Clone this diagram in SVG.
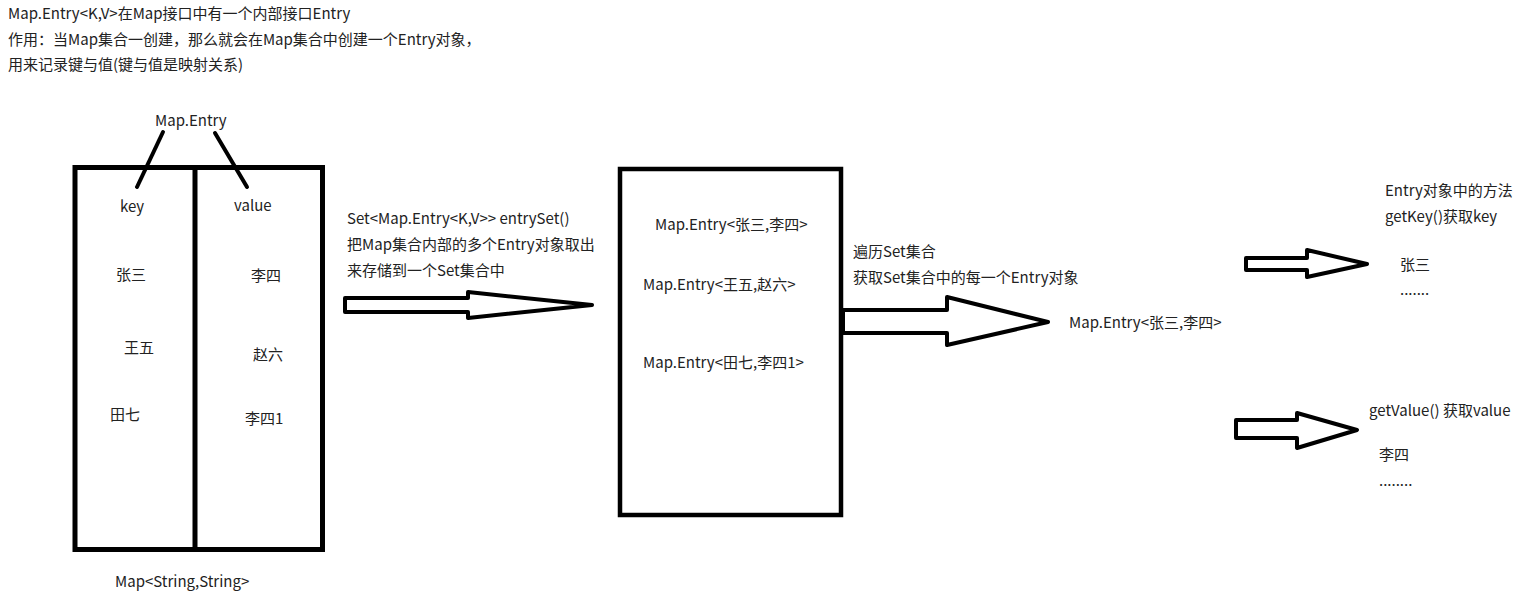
<svg xmlns="http://www.w3.org/2000/svg" width="1525" height="595" viewBox="0 0 1525 595">
<style>
text{font-family:"Microsoft YaHei","Noto Sans CJK SC","Noto Sans",sans-serif;font-size:15px;fill:#222}
.box{fill:none;stroke:#000;stroke-width:5}
.ln{fill:none;stroke:#000;stroke-width:4;stroke-linecap:round}
.arr{fill:#fff;stroke:#000;stroke-width:4;stroke-linejoin:round}
</style>
<rect width="1525" height="595" fill="#fff"/>
<g id="notes">
<text x="8" y="19">Map.Entry&lt;K,V&gt;在Map接口中有一个内部接口Entry</text>
<text x="8" y="45">作用：当Map集合一创建，那么就会在Map集合中创建一个Entry对象，</text>
<text x="8" y="70">用来记录键与值(键与值是映射关系)</text>
</g>
<g id="map">
<rect class="box" x="75" y="167.5" width="247.5" height="382"/>
<line class="box" x1="195" y1="167.5" x2="195" y2="549.5"/>
<line class="ln" x1="163" y1="132" x2="137" y2="187"/>
<line class="ln" x1="215" y1="133" x2="247" y2="187"/>
<text x="155" y="126">Map.Entry</text>
<text x="120" y="212">key</text>
<text x="234" y="211">value</text>
<text x="116" y="280">张三</text>
<text x="251" y="281">李四</text>
<text x="124" y="353">王五</text>
<text x="253" y="360">赵六</text>
<text x="110" y="420">田七</text>
<text x="245" y="424">李四1</text>
<text x="115" y="587">Map&lt;String,String&gt;</text>
</g>
<g id="entrySetLabel">
<text x="347" y="224">Set&lt;Map.Entry&lt;K,V&gt;&gt; entrySet()</text>
<text x="347" y="250">把Map集合内部的多个Entry对象取出</text>
<text x="347" y="276">来存储到一个Set集合中</text>
</g>
<g id="set">
<rect class="box" x="620" y="169" width="221" height="346" style="stroke-width:4.5"/>
<text x="655" y="230">Map.Entry&lt;张三,李四&gt;</text>
<text x="643" y="290">Map.Entry&lt;王五,赵六&gt;</text>
<text x="643" y="368">Map.Entry&lt;田七,李四1&gt;</text>
</g>
<g id="iterLabel">
<text x="853" y="257">遍历Set集合</text>
<text x="853" y="283">获取Set集合中的每一个Entry对象</text>
</g>
<g id="entry">
<text x="1069" y="328">Map.Entry&lt;张三,李四&gt;</text>
</g>
<g id="getKey">
<text x="1385" y="196">Entry对象中的方法</text>
<text x="1385" y="222">getKey()获取key</text>
<text x="1400" y="270">张三</text>
<text x="1400" y="295">.......</text>
</g>
<g id="getValue">
<text x="1369" y="416">getValue() 获取value</text>
<text x="1379" y="460">李四</text>
<text x="1379" y="486">........</text>
</g>
<g id="connectors">
<polygon class="arr" points="345,298 468,298 468,292 592,305 468,318 468,312 345,312"/>
<polygon class="arr" points="843,310 947,310 947,297 1048,322 947,345 947,333 843,333"/>
<polygon class="arr" points="1246,258 1307,258 1307,250 1367,264 1307,277 1307,270 1246,270"/>
<polygon class="arr" points="1236,420 1297,420 1297,413 1357,430 1297,448 1297,438 1236,438"/>
</g>
</svg>
